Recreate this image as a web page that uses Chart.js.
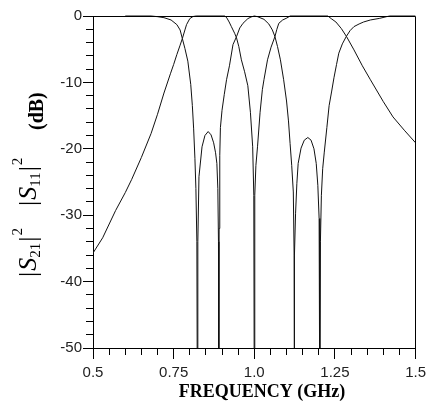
<!DOCTYPE html>
<html>
<head>
<meta charset="utf-8">
<script src="https://cdn.jsdelivr.net/npm/chart.js@4.4.1/dist/chart.umd.min.js"></script>
<style>
  html, body { margin: 0; padding: 0; background: #fff; }
</style>
</head>
<body>
<canvas id="myChart" width="435" height="409"></canvas>
<script>
// values (GHz / dB), zeros go below -50 and get clipped
const s21Freq = [0.50, 0.53, 0.57, 0.60, 0.62, 0.65, 0.68, 0.70, 0.72, 0.74, 0.75, 0.76, 0.77, 0.777, 0.785, 0.79, 0.80, 0.81, 0.82,
  0.90, 0.909, 0.915, 0.922, 0.929, 0.934, 0.939, 0.945, 0.952, 0.96, 0.97, 0.98, 0.988, 0.995, 0.9985, 1.0,
  1.0015, 1.005, 1.010, 1.018, 1.025, 1.030, 1.041, 1.052, 1.064, 1.070, 1.076, 1.088, 1.101, 1.111,
  1.228, 1.24, 1.253, 1.27, 1.286, 1.309, 1.335, 1.36, 1.40, 1.43, 1.465, 1.5];
const s21Db = [-35.7, -33.4, -29.3, -26.6, -24.6, -21.3, -17.7, -14.8, -11.6, -8.7, -7.3, -5.8, -4.4, -3.4, -2.1, -1.3, -0.4, -0.08, 0,
  0, 0, -0.3, -0.9, -1.6, -2.1, -2.6, -3.3, -4.6, -6.6, -8.4, -10.5, -14.5, -19.7, -27, -60,
  -27, -22.5, -19.7, -14.5, -11.1, -9.6, -6.6, -4.7, -3.1, -2.0, -1.1, -0.6, -0.3, 0,
  0, -0.45, -0.9, -1.9, -3.1, -5.1, -7.5, -9.6, -12.9, -15.2, -17.2, -19.1];

const s11Freq = [0.60, 0.68, 0.70, 0.72, 0.742, 0.76, 0.770, 0.777, 0.785, 0.794, 0.803, 0.808, 0.812, 0.816, 0.819, 0.822, 0.8235,
  0.825, 0.8285, 0.838, 0.847, 0.857, 0.866, 0.874, 0.880, 0.884, 0.887, 0.889, 0.890,
  0.891, 0.893, 0.895, 0.900, 0.907, 0.914, 0.923, 0.934, 0.945, 0.955, 0.965, 0.980, 0.990, 1.0,
  1.010, 1.030, 1.045, 1.056, 1.064, 1.072, 1.081, 1.091, 1.100, 1.106, 1.111, 1.116, 1.121, 1.1235, 1.124,
  1.125, 1.128, 1.132, 1.136, 1.145, 1.155, 1.166, 1.176, 1.185, 1.192, 1.197, 1.201, 1.203,
  1.205, 1.208, 1.212, 1.217, 1.225, 1.232, 1.240, 1.247, 1.255, 1.262, 1.273, 1.285, 1.297, 1.309, 1.325, 1.339, 1.36, 1.389, 1.41, 1.42, 1.5];
const s11Db = [0, 0, -0.1, -0.25, -0.6, -1.3, -2.1, -3.4, -4.9, -6.8, -10.3, -13.5, -17.0, -21.5, -26, -34, -60,
  -34, -24.2, -19.7, -18.0, -17.4, -17.9, -19.1, -20.6, -22.2, -26, -34, -60,
  -32, -21, -16.8, -14.2, -11.8, -9.6, -7.5, -4.3, -3.1, -1.8, -1.1, -0.4, -0.15, 0,
  -0.1, -0.5, -1.2, -2.1, -3.1, -4.6, -6.6, -9.6, -12.8, -15.8, -19.2, -22.5, -26.5, -36, -60,
  -36, -29.7, -25.2, -22.2, -19.9, -18.7, -18.3, -18.7, -20.0, -22.2, -25.5, -30.5, -60,
  -34, -27, -23, -20.5, -16.8, -13.5, -11.3, -9.3, -7.3, -5.6, -4.2, -3.1, -2.2, -1.6, -1.2, -0.9, -0.6, -0.35, -0.1, 0, 0];

// ticks
const xMajor = [0.5, 0.75, 1.0, 1.25, 1.5];
const xTickLabels = ['0.5', '0.75', '1.0', '1.25', '1.5'];
const yMajor = [0, -10, -20, -30, -40, -50];
const yTickLabels = ['0', '-10', '-20', '-30', '-40', '-50'];

const toPoints = (xs, ys) => xs.map((f, i) => ({ x: f, y: ys[i] }));

const findMajor = (list, v) => list.findIndex(m => Math.abs(m - v) < 1e-6);

// rotated y title with sub/superscripts, drawn piece by piece
function drawRuns(ctx, runs, x0, y0) {
  ctx.save();
  ctx.translate(x0, y0);
  ctx.rotate(-Math.PI / 2);
  ctx.textBaseline = 'alphabetic';
  ctx.textAlign = 'left';
  let pos = 0;
  runs.forEach(r => {
    ctx.font = r.font;
    ctx.fillText(r.text, pos, r.dy || 0);
    pos += ctx.measureText(r.text).width + (r.gap || 0);
  });
  ctx.restore();
}

const big = '26px "Liberation Serif"';
const bigIt = 'italic 26px "Liberation Serif"';
const small = '15px "Liberation Serif"';

const frame = {
  id: 'frame',
  afterDraw(chart) {
    const { ctx, chartArea: a, scales: { x, y } } = chart;
    const al = p => Math.round(p - 0.5) + 0.5;
    ctx.save();
    ctx.strokeStyle = '#000';
    ctx.lineWidth = 1;
    ctx.beginPath();
    // top and right border
    ctx.moveTo(al(a.left), al(a.top));
    ctx.lineTo(al(a.right), al(a.top));
    ctx.lineTo(al(a.right), al(a.bottom));
    // major ticks are longer
    xMajor.forEach(v => {
      const px = al(x.getPixelForValue(v));
      ctx.moveTo(px, a.bottom);
      ctx.lineTo(px, a.bottom + 11);
    });
    yMajor.forEach(v => {
      const py = al(y.getPixelForValue(v));
      ctx.moveTo(a.left, py);
      ctx.lineTo(a.left - 10, py);
    });
    ctx.stroke();

    ctx.fillStyle = '#000';
    ctx.font = 'bold 18px "Liberation Serif"';
    ctx.textAlign = 'center';
    ctx.textBaseline = 'alphabetic';
    ctx.fillText('FREQUENCY (GHz)', 262, 397);

    drawRuns(ctx, [
      { text: '|', font: big, gap: 1 },
      { text: 'S', font: bigIt },
      { text: '21', font: small, dy: 4, gap: 1 },
      { text: '|', font: big, gap: 1 },
      { text: '2', font: small, dy: -14 }
    ], 36, 277);
    drawRuns(ctx, [
      { text: '|', font: big, gap: 1 },
      { text: 'S', font: bigIt },
      { text: '11', font: small, dy: 4, gap: 1 },
      { text: '|', font: big, gap: 1 },
      { text: '2', font: small, dy: -14 }
    ], 36, 206);
    drawRuns(ctx, [
      { text: '(dB)', font: 'bold 20px "Liberation Serif"' }
    ], 43, 130);
    ctx.restore();
  }
};

Chart.defaults.font.family = '"Liberation Sans", Arial, sans-serif';
Chart.defaults.font.size = 15;
Chart.defaults.color = '#222';

const ctx = document.getElementById('myChart').getContext('2d');
const myChart = new Chart(ctx, {
  type: 'line',
  data: {
    datasets: [{
      label: '|S21|²',
      data: toPoints(s21Freq, s21Db),
      borderColor: '#111',
      borderWidth: 1,
      pointRadius: 0,
      tension: 0,
      clip: { left: 0, top: 2, right: 0, bottom: 0 }
    }, {
      label: '|S11|²',
      data: toPoints(s11Freq, s11Db),
      borderColor: '#111',
      borderWidth: 1,
      pointRadius: 0,
      tension: 0,
      clip: { left: 0, top: 2, right: 0, bottom: 0 }
    }]
  },
  options: {
    responsive: false,
    animation: false,
    layout: { padding: { top: 16, right: 12, left: 0, bottom: 0 } },
    plugins: {
      legend: { display: false },
      tooltip: { enabled: false }
    },
    scales: {
      x: {
        type: 'linear',
        min: 0.5,
        max: 1.5,
        afterFit: s => { s.height = 61; },
        grid: { drawOnChartArea: false, tickLength: 7, color: '#000' },
        border: { color: '#000' },
        ticks: {
          stepSize: 0.05,
          autoSkip: false,
          maxRotation: 0,
          padding: 9,
          callback: v => {
            const i = findMajor(xMajor, v);
            return i >= 0 ? xTickLabels[i] : '';
          }
        }
      },
      y: {
        min: -50,
        max: 0,
        afterFit: s => { s.width = 93; },
        grid: { drawOnChartArea: false, tickLength: 7, color: '#000' },
        border: { color: '#000' },
        ticks: {
          stepSize: 2,
          autoSkip: false,
          padding: 4,
          callback: v => {
            const i = findMajor(yMajor, v);
            return i >= 0 ? yTickLabels[i] : '';
          }
        }
      }
    }
  },
  plugins: [frame]
});
</script>
</body>
</html>
